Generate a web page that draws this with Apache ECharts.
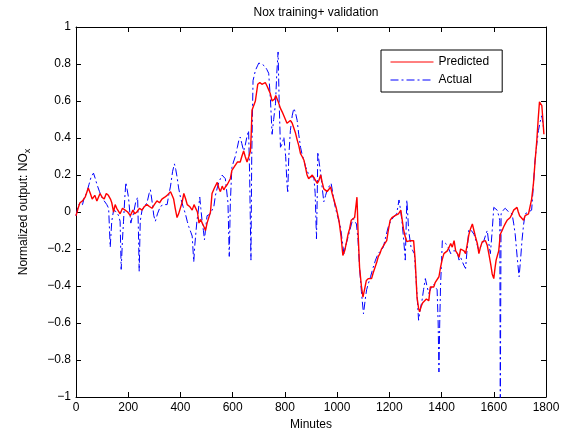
<!DOCTYPE html>
<html>
<head>
<meta charset="utf-8">
<script src="https://cdn.jsdelivr.net/npm/echarts@6/dist/echarts.min.js"></script>
<style>
html,body{margin:0;padding:0;background:#fff;}
#chart{width:570px;height:436px;}
</style>
</head>
<body>
<div id="chart"></div>
<script>
// ---- Data ----
var titleText = 'Nox training+ validation';
var xTicks = [0, 200, 400, 600, 800, 1000, 1200, 1400, 1600, 1800];

var predMinutes = [0,8,15,25,35,47,55,62,72,80,92,100,108,116,124,132,137,144,150,156,163,169,178,188,198,208,218,225,233,243,253,262,272,281,291,300,310,320,329,340,349,355,362,368,374,380,387,393,400,406,413,420,426,435,445,452,458,465,471,477,483,490,496,502,509,515,521,530,541,547,553,560,566,572,580,586,591,597,604,610,618,624,629,635,642,648,655,662,668,671,674,680,687,692,696,704,712,718,725,732,738,744,751,760,765,770,776,783,790,796,802,808,815,821,828,834,840,847,853,860,866,873,879,885,891,898,905,911,918,924,930,937,943,949,956,962,968,975,981,988,997,1007,1015,1022,1029,1035,1042,1048,1054,1060,1067,1072,1076,1078,1080,1086,1093,1099,1105,1112,1120,1126,1132,1138,1145,1152,1158,1164,1170,1177,1183,1190,1196,1203,1210,1216,1222,1229,1235,1240,1244,1249,1254,1260,1267,1273,1280,1287,1293,1299,1306,1312,1316,1322,1328,1335,1342,1351,1357,1363,1370,1376,1383,1390,1396,1402,1409,1416,1422,1429,1435,1441,1448,1454,1461,1467,1473,1480,1486,1492,1499,1505,1511,1518,1524,1530,1537,1543,1549,1556,1562,1568,1575,1581,1588,1594,1600,1605,1609,1615,1619,1625,1632,1638,1645,1651,1657,1663,1670,1676,1682,1689,1694,1699,1706,1714,1720,1727,1733,1739,1745,1752,1758,1765,1770,1775,1780,1784,1788,1792];
var predicted = [-0.02,0.02,0.05,0.06,0.08,0.13,0.1,0.07,0.09,0.06,0.1,0.08,0.07,0.1,0.09,0.07,0.05,0.0,0.04,0.02,0.03,-0.01,0.02,0.01,0.0,-0.02,0.01,-0.01,0.0,0.02,0.01,0.03,0.04,0.03,0.02,0.04,0.06,0.05,0.07,0.08,0.09,0.08,0.11,0.09,0.07,0.02,-0.03,-0.01,0.0,0.05,0.1,0.07,0.04,0.03,0.01,0.04,0.03,0.0,-0.06,-0.04,-0.05,-0.08,-0.1,-0.06,-0.05,0.0,0.1,0.13,0.16,0.13,0.11,0.14,0.12,0.135,0.15,0.16,0.18,0.225,0.24,0.25,0.27,0.26,0.27,0.3,0.33,0.3,0.27,0.3,0.33,0.42,0.55,0.56,0.6,0.65,0.69,0.7,0.69,0.7,0.7,0.68,0.675,0.64,0.6,0.61,0.63,0.62,0.59,0.56,0.54,0.52,0.5,0.48,0.49,0.495,0.48,0.47,0.43,0.39,0.36,0.315,0.3,0.28,0.24,0.2,0.18,0.17,0.2,0.19,0.17,0.155,0.17,0.2,0.16,0.125,0.12,0.11,0.12,0.135,0.1,0.065,0.02,-0.045,-0.13,-0.235,-0.21,-0.17,-0.12,-0.09,-0.045,-0.05,-0.03,-0.04,0.08,0.0,-0.1,-0.3,-0.4,-0.46,-0.42,-0.37,-0.36,-0.37,-0.36,-0.33,-0.3,-0.27,-0.24,-0.225,-0.2,-0.19,-0.17,-0.155,-0.1,-0.045,-0.03,-0.02,-0.02,-0.015,-0.01,0.0,0.01,-0.04,-0.09,-0.13,-0.16,-0.15,-0.155,-0.15,-0.155,-0.26,-0.46,-0.52,-0.54,-0.51,-0.49,-0.48,-0.47,-0.48,-0.405,-0.41,-0.405,-0.38,-0.37,-0.35,-0.3,-0.26,-0.225,-0.22,-0.21,-0.19,-0.17,-0.19,-0.155,-0.21,-0.225,-0.245,-0.2,-0.19,-0.21,-0.225,-0.17,-0.12,-0.09,-0.065,-0.1,-0.135,-0.17,-0.225,-0.19,-0.16,-0.17,-0.155,-0.18,-0.225,-0.28,-0.335,-0.36,-0.3,-0.26,-0.23,-0.21,-0.12,-0.1,-0.08,-0.06,-0.045,-0.04,-0.03,-0.01,0.01,0.02,0.025,0.0,-0.02,-0.03,-0.045,-0.02,-0.01,-0.01,0.0,0.07,0.155,0.27,0.39,0.5,0.595,0.6,0.575,0.5,0.42];

var actMinutes = [0,8,15,25,32,40,50,58,67,74,80,90,99,108,118,125,131,137,144,150,156,163,169,173,178,182,187,191,196,201,206,210,215,220,228,236,239,242,246,253,262,272,280,285,292,298,304,312,323,335,349,355,362,370,377,382,387,393,400,410,419,426,432,440,445,451,455,458,463,467,474,478,483,488,492,497,502,509,515,521,528,534,541,547,553,559,566,572,578,582,587,591,597,603,610,618,624,629,635,642,648,655,661,665,670,673,678,683,687,695,700,706,712,718,725,731,738,745,751,757,764,769,774,778,783,790,796,803,808,811,815,821,828,834,840,847,853,860,866,873,879,889,898,905,911,916,921,924,926,931,937,943,949,956,962,970,977,985,993,1003,1013,1020,1026,1035,1045,1054,1061,1068,1074,1080,1086,1093,1101,1108,1113,1119,1128,1138,1147,1157,1167,1177,1187,1196,1205,1215,1222,1228,1233,1237,1242,1248,1255,1261,1264,1267,1270,1274,1283,1290,1296,1304,1312,1318,1325,1331,1338,1344,1351,1360,1370,1377,1383,1387,1390,1393,1396,1399,1403,1410,1416,1425,1435,1445,1454,1462,1467,1473,1480,1486,1492,1498,1505,1514,1524,1533,1543,1552,1562,1570,1575,1581,1587,1594,1600,1606,1613,1619,1623,1625,1628,1636,1644,1650,1657,1664,1670,1676,1682,1690,1697,1703,1708,1714,1720,1727,1733,1739,1745,1752,1758,1765,1771,1778,1784,1790];
var actual = [-0.02,0.03,0.05,0.04,0.08,0.1,0.15,0.19,0.21,0.18,0.15,0.11,0.08,0.06,0.04,0.02,-0.19,-0.05,0.01,0.02,0.0,-0.02,-0.05,-0.31,-0.15,-0.05,0.08,0.16,0.12,0.08,0.0,-0.06,-0.03,-0.01,0.05,0.08,-0.1,-0.32,-0.05,0.01,0.03,0.05,0.1,0.12,0.05,-0.02,-0.05,-0.01,0.03,0.04,0.04,0.09,0.14,0.22,0.26,0.23,0.19,0.13,0.08,0.03,-0.01,-0.05,-0.08,-0.11,-0.13,-0.27,-0.18,-0.13,-0.05,-0.01,0.08,0.02,-0.05,-0.1,-0.15,-0.08,-0.02,-0.02,-0.01,0.01,0.03,0.09,0.13,0.16,0.18,0.2,0.19,0.18,0.17,0.05,-0.24,0.05,0.24,0.27,0.3,0.35,0.39,0.405,0.37,0.33,0.36,0.41,0.44,0.2,-0.26,0.3,0.71,0.74,0.765,0.79,0.805,0.81,0.8,0.79,0.785,0.77,0.75,0.6,0.42,0.5,0.585,0.75,0.865,0.6,0.35,0.37,0.405,0.3,0.15,0.11,0.3,0.44,0.52,0.56,0.54,0.495,0.42,0.35,0.31,0.28,0.245,0.21,0.19,0.2,0.19,0.1,-0.145,0.1,0.325,0.27,0.21,0.13,0.055,0.09,0.12,0.14,0.155,0.09,0.025,-0.03,-0.08,-0.16,-0.225,-0.17,-0.12,-0.07,-0.035,-0.05,-0.065,-0.15,-0.3,-0.43,-0.55,-0.47,-0.42,-0.39,-0.35,-0.3,-0.26,-0.225,-0.21,-0.19,-0.13,-0.08,-0.05,-0.03,-0.02,-0.01,0.03,0.065,0.02,-0.045,-0.15,-0.26,-0.1,0.065,0.0,-0.1,-0.19,-0.21,-0.225,-0.4,-0.585,-0.53,-0.48,-0.42,-0.36,-0.4,-0.44,-0.41,-0.39,-0.4,-0.42,-0.6,-0.865,-0.6,-0.405,-0.3,-0.155,-0.155,-0.17,-0.19,-0.225,-0.21,-0.21,-0.23,-0.26,-0.245,-0.27,-0.29,-0.305,-0.2,-0.09,-0.1,-0.12,-0.16,-0.21,-0.18,-0.155,-0.12,-0.1,-0.17,-0.225,-0.1,0.025,0.03,0.01,-0.02,-0.045,-1.05,-0.01,0.01,0.02,0.01,0.0,-0.005,-0.01,-0.06,-0.12,-0.25,-0.35,-0.25,-0.155,-0.07,-0.01,-0.01,0.0,0.005,0.01,0.15,0.28,0.37,0.44,0.49,0.52,0.46];

function zip(xs, ys){ var out=[]; for(var i=0;i<xs.length;i++){ out.push([xs[i], ys[i]]); } return out; }

var FONT = '"Liberation Sans", Arial, Helvetica, sans-serif';
var chart = echarts.init(document.getElementById('chart'), null, {renderer:'canvas'});

function yFmt(v){
  var r = Math.round(v*10)/10;
  return String(r).replace('-', '\u2212');
}
function xFmt(v){ return String(Math.round(v)); }

var axisCommon = {
  axisLine:{show:true, onZero:false, lineStyle:{color:'#000', width:1}},
  axisTick:{show:true, inside:true, length:5, lineStyle:{color:'#000', width:1}},
  splitLine:{show:false}
};

chart.setOption({
  animation:false,
  backgroundColor:'#fff',
  textStyle:{fontFamily:FONT},
  title:{
    text:titleText, left:311, top:2, textAlign:'center',
    textStyle:{fontFamily:FONT, fontSize:12, fontWeight:'normal', color:'#000'}
  },
  legend:{
    orient:'vertical', left:381, top:50,
    padding:[6,13,6,9], itemGap:6, itemWidth:43, itemHeight:12,
    backgroundColor:'#fff', borderColor:'#000', borderWidth:1,
    textStyle:{fontFamily:FONT, fontSize:12, color:'#000'},
    itemStyle:{opacity:0},
    lineStyle:{width:1},
    data:[
      {name:'Predicted', itemStyle:{opacity:0}},
      {name:'Actual', itemStyle:{opacity:0}}
    ]
  },
  grid:{left:76, right:24, top:27, bottom:39, containLabel:false},
  xAxis:[
    Object.assign({}, axisCommon, {
      type:'value', position:'bottom', min:0, max:1800, interval:200,
      axisLabel:{show:true, color:'#000', fontFamily:FONT, fontSize:12, margin:5, formatter:xFmt},
      name:'Minutes', nameLocation:'middle', nameGap:20,
      nameTextStyle:{fontFamily:FONT, fontSize:12, color:'#000'}
    }),
    Object.assign({}, axisCommon, {
      type:'value', position:'top', min:0, max:1800, interval:200,
      axisLabel:{show:false}
    })
  ],
  yAxis:[
    Object.assign({}, axisCommon, {
      type:'value', position:'left', min:-1, max:1, interval:0.2,
      axisLabel:{show:true, color:'#000', fontFamily:FONT, fontSize:12, margin:5, formatter:yFmt},
      name:'{n|Normalized output: NO}{s|x}', nameLocation:'middle', nameGap:44, nameRotate:90,
      nameTextStyle:{
        color:'#000',
        rich:{
          n:{fontFamily:FONT, fontSize:12, color:'#000', lineHeight:16, verticalAlign:'middle'},
          s:{fontFamily:FONT, fontSize:9, color:'#000', lineHeight:16, verticalAlign:'bottom', padding:[7,0,0,0]}
        }
      }
    }),
    Object.assign({}, axisCommon, {
      type:'value', position:'right', min:-1, max:1, interval:0.2,
      axisLabel:{show:false}
    })
  ],
  series:[
    {
      name:'Predicted', type:'line', xAxisIndex:0, yAxisIndex:0,
      data:zip(predMinutes, predicted),
      showSymbol:false, symbol:'none', clip:true, z:3,
      lineStyle:{color:'#ff0000', width:1.4},
      itemStyle:{color:'#ff0000'}
    },
    {
      name:'Actual', type:'line', xAxisIndex:0, yAxisIndex:0,
      data:zip(actMinutes, actual),
      showSymbol:false, symbol:'none', clip:true, z:2,
      lineStyle:{color:'#0000ff', width:1, type:[8,3,2,3]},
      itemStyle:{color:'#0000ff'}
    }
  ]
});
</script>
</body>
</html>
